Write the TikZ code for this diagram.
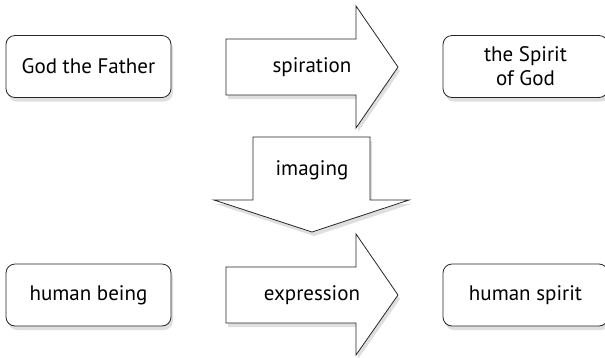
\documentclass[tikz,border=0pt]{standalone}
\usepackage{fontspec}
\setmainfont{PT Sans}
\usetikzlibrary{shadows}

\tikzset{
  box/.style={draw=black!85,fill=white,line width=0.8pt,rounded corners=9pt,
    minimum width=165pt,minimum height=62pt,align=center,
    drop shadow={shadow xshift=2pt,shadow yshift=-4pt,opacity=0.25}},
  blockarrow/.style={draw=black!85,fill=white,line width=0.8pt,line join=miter,
    drop shadow={shadow xshift=2pt,shadow yshift=-4pt,opacity=0.25}},
  lbl/.style={inner sep=0pt}
}

\begin{document}
\begin{tikzpicture}[x=1pt,y=-1pt,font=\fontsize{21}{24}\selectfont]
    \useasboundingbox (0,0) rectangle (605,357);
    % boxes
    \node[box] (father) at (88.5,66.5) {God the Father};
    \node[box] (spirit) at (525.5,66.5) {the Spirit\\of God};
    \node[box] (human) at (88.5,295) {human being};
    \node[box] (humspirit) at (525.5,295) {human spirit};
    % block arrows
    \path[blockarrow] (226,39) -- (356,39) -- (356,6) -- (398,67) -- (356,128)
      -- (356,95) -- (226,95) -- cycle;
    \node[lbl] (spiration) at (312,67) {spiration};
    \path[blockarrow] (253,137) -- (370,137) -- (370,200) -- (409,200) -- (312,232)
      -- (214,200) -- (253,200) -- cycle;
    \node[lbl] (imaging) at (312,170) {imaging};
    \path[blockarrow] (226,267) -- (356,267) -- (356,234) -- (398,295) -- (356,355)
      -- (356,323) -- (226,323) -- cycle;
    \node[lbl] (expression) at (312,295) {expression};
\end{tikzpicture}
\end{document}
